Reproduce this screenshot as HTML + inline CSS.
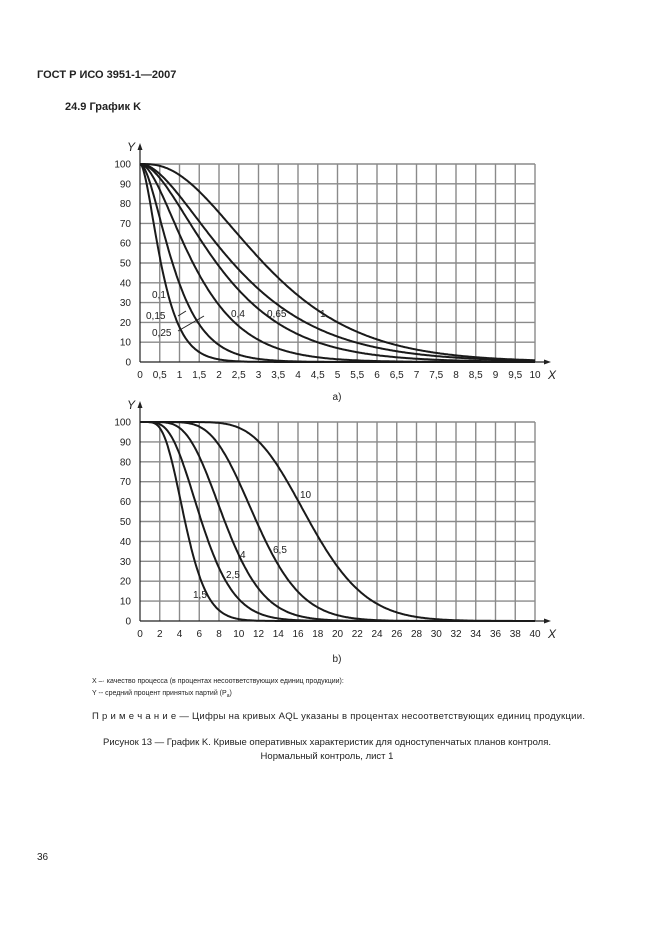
<!DOCTYPE html>
<html><head><meta charset="utf-8"><style>
html,body{margin:0;padding:0;background:#fff}
svg{display:block}
text{font-family:"Liberation Sans",sans-serif;fill:#222}
</style></head><body>
<svg id="s" width="662" height="936" viewBox="0 0 662 936" xmlns="http://www.w3.org/2000/svg">
<rect width="662" height="936" fill="#fff"/>
<text x="37" y="78" font-size="11" font-weight="bold">ГОСТ Р ИСО 3951-1—2007</text>
<text x="65" y="110" font-size="11" font-weight="bold">24.9 График K</text>
<g id="ga"></g>
<g id="gb"></g>
<text x="337" y="400" font-size="10" text-anchor="middle">a)</text>
<text x="337" y="662" font-size="10" text-anchor="middle">b)</text>
<text x="92" y="683" font-size="7">X –· качество процесса (в процентах несоответствующих единиц продукции):</text>
<text x="92" y="695" font-size="7">Y -- средний процент принятых партий (P<tspan font-size="5" dy="2">a</tspan><tspan dy="-2">)</tspan></text>
<text x="92" y="719" font-size="9.5" textLength="493">П р и м е ч а н и е — Цифры на кривых AQL указаны в процентах  несоответствующих единиц продукции.</text>
<text x="327" y="745" font-size="9.5" text-anchor="middle">Рисунок 13 — График K. Кривые оперативных характеристик для одноступенчатых планов контроля.</text>
<text x="327" y="759" font-size="9.5" text-anchor="middle">Нормальный контроль, лист 1</text>
<text x="37" y="860" font-size="10">36</text>
</svg>
<script>
function pois(c,m){let t=Math.exp(-m),s=t;for(let k=1;k<=c;k++){t*=m/k;s+=t;}return s;}
const NS="http://www.w3.org/2000/svg";
function el(g,tag,a,txt){const e=document.createElementNS(NS,tag);for(const k in a)e.setAttribute(k,a[k]);if(txt!==undefined)e.textContent=txt;g.appendChild(e);return e;}
function chart(id,y100,y0,xmax,step,lblStep,fmt,curves,labels){
 const g=document.getElementById(id),x0=140,x1=535;
 const X=v=>x0+(x1-x0)*v/xmax, Y=v=>y0-(y0-y100)*v/100;
 for(let v=step;v<=xmax+1e-9;v+=step)el(g,"line",{x1:X(v),x2:X(v),y1:y100,y2:y0,stroke:"#8a8a8a","stroke-width":1.4});
 for(let v=10;v<=100;v+=10)el(g,"line",{x1:x0,x2:x1,y1:Y(v),y2:Y(v),stroke:"#8a8a8a","stroke-width":1.4});
 el(g,"line",{x1:x0,x2:x0,y1:y0,y2:y100-18,stroke:"#222","stroke-width":1.2});
 el(g,"polygon",{points:`${x0-2.5},${y100-14} ${x0+2.5},${y100-14} ${x0},${y100-21}`,fill:"#222"});
 el(g,"line",{x1:x0,x2:x1+12,y1:y0,y2:y0,stroke:"#222","stroke-width":1.2});
 el(g,"polygon",{points:`${x1+9},${y0-2.5} ${x1+9},${y0+2.5} ${x1+16},${y0}`,fill:"#222"});
 for(let v=0;v<=100;v+=10)el(g,"text",{x:131,y:Y(v)+3.5,"font-size":10,"text-anchor":"end"},v);
 for(let v=0;v<=xmax+1e-9;v+=lblStep)el(g,"text",{x:X(v),y:y0+16,"font-size":10,"text-anchor":"middle"},fmt(v));
 el(g,"text",{x:127,y:y100-13,"font-size":12,"font-style":"italic"},"Y");
 el(g,"text",{x:548,y:y0+17,"font-size":12,"font-style":"italic"},"X");
 curves.forEach(([c,s])=>{let d="";for(let i=0;i<=400;i++){const xv=xmax*i/400;const p=100*pois(c,xv/s);d+=(i?"L":"M")+X(xv).toFixed(1)+","+Y(p).toFixed(1);}
  el(g,"path",{d:d,fill:"none",stroke:"#1a1a1a","stroke-width":2});});
 labels.forEach(([t,x,y])=>el(g,"text",{x:x,y:y,"font-size":10},t));
}
const fa=v=>String(Math.round(v*10)/10).replace(".",",");
chart("ga",164,362,10,0.5,0.5,fa,[[1,0.316],[1,0.49],[1,0.80],[1,1.155],[1,1.40],[2,1.17]],
 [["0,1",152,298],["0,15",146,319],["0,25",152,336],["0,4",231,317],["0,65",267,317],["1",320,317]]);
el(document.getElementById("ga"),"line",{x1:178,x2:186,y1:316,y2:311,stroke:"#222","stroke-width":1});
el(document.getElementById("ga"),"line",{x1:178,x2:204,y1:331,y2:316,stroke:"#222","stroke-width":1});
chart("gb",422,621,40,2,2,v=>String(v),[[6,0.684],[5,1.10],[7,1.12],[10,1.106],[14,1.17]],
 [["1,5",193,598],["2,5",226,578],["4",240,558],["6,5",273,553],["10",300,498]]);
</script>
</body></html>
